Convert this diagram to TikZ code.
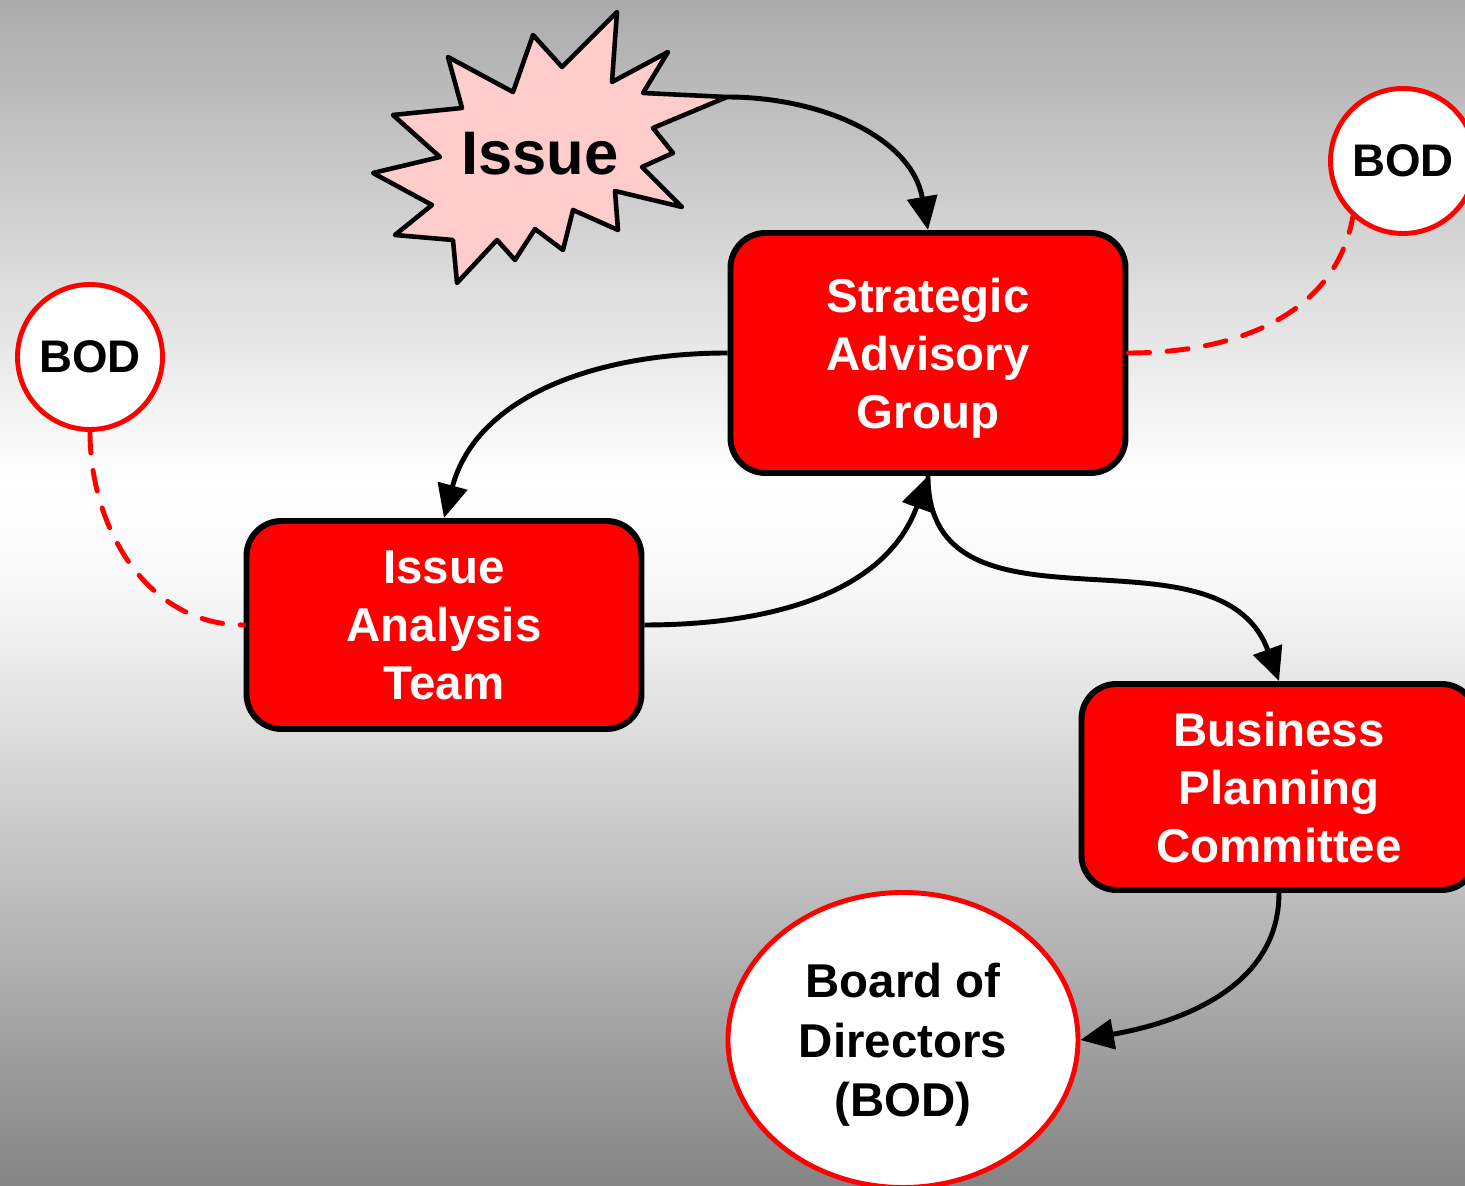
\documentclass[tikz,border=0pt]{standalone}
\usepackage{fontspec}
\setmainfont{Liberation Sans}
\usetikzlibrary{arrows.meta,shapes.geometric}

\definecolor{bgtop}{gray}{0.67}
\definecolor{bgmid}{gray}{0.97}
\definecolor{bgbottom}{gray}{0.52}
\definecolor{burst}{RGB}{255,204,204}

% light band a bit above the middle
\pgfdeclareverticalshading{backdrop}{100bp}{color(0bp)=(bgbottom); color(25bp)=(bgbottom);
  color(50bp)=(bgmid); color(54.8bp)=(white); color(75bp)=(bgtop); color(100bp)=(bgtop)}

\tikzset{
  unit/.style={draw=black, line width=1.7pt, fill=red, rounded corners=0.35cm,
    minimum width=3.95cm, text=white, align=center, text depth=0pt,
    font=\bfseries\fontsize{13.5}{16.5}\selectfont},
  board/.style={draw=red, line width=1.4pt, fill=white, align=center, inner sep=0pt,
    font=\bfseries\fontsize{13.5}{17}\selectfont},
  flow/.style={line width=1.4pt, -{Triangle[length=9.5pt,width=8.5pt]}},
  link/.style={red, line width=1.4pt, dash pattern=on 6pt off 5pt, line cap=round}
}

\begin{document}
\begin{tikzpicture}

\shade[shading=backdrop] (0,0) rectangle (14.65,11.86);
\useasboundingbox (0,0) rectangle (14.65,11.86);

% burst around the issue
\filldraw[fill=burst, line width=1.3pt, line join=round]
  (6.17,11.74) -- (6.12,11.04) -- (6.68,11.34) -- (6.43,10.93) -- (7.27,10.89)
  -- (6.53,10.58) -- (6.73,10.33) -- (6.42,10.19) -- (6.82,9.79) -- (6.15,9.95)
  -- (6.18,9.56) -- (5.73,9.76) -- (5.63,9.36) -- (5.35,9.57) -- (5.15,9.26)
  -- (4.97,9.46) -- (4.57,9.03) -- (4.53,9.46) -- (3.95,9.51) -- (4.32,9.81)
  -- (3.73,10.13) -- (4.40,10.29) -- (3.93,10.71) -- (4.62,10.78) -- (4.48,11.29)
  -- (5.13,10.94) -- (5.33,11.51) -- (5.62,11.19) -- cycle;
\coordinate (tip) at (7.27,10.89);
\node[font=\bfseries\fontsize{17.5}{20}\selectfont] (issue) at (5.40,10.32) {Issue};

\node[unit, minimum height=2.40cm] (sag) at (9.28,8.33) {Strategic\\Advisory\\Group};
\node[unit, minimum height=2.08cm] (iat) at (4.44,5.61) {Issue\\Analysis\\Team};
\node[unit, minimum height=2.06cm] (bpc) at (12.79,3.99) {Business\\Planning\\Committee};

\node[board, ellipse, text depth=0pt, minimum width=3.50cm, minimum height=2.95cm] (bod) at (9.03,1.46) {Board of\\Directors\\(BOD)};
\node[board, circle, minimum size=1.45cm, font=\bfseries\fontsize{13}{15}\selectfont] (bodl) at (0.90,8.29) {BOD};
\node[board, circle, minimum size=1.45cm, font=\bfseries\fontsize{13}{15}\selectfont] (bodr) at (14.03,10.25) {BOD};

% who passes what to whom
\draw[flow] (tip) to[out=0, in=100] (sag.north);
\draw[flow] (sag.west) to[out=180, in=75] (iat.north);
\draw[flow] (iat.east) to[out=0, in=-110] (sag.south);
\draw[flow] (sag.south) to[out=-90, in=110, looseness=1.1] (bpc.north);
\draw[flow] (bpc.south) to[out=-90, in=10] (bod.east);

% board members sitting in
\draw[link] (sag.east) to[out=0, in=-100] (bodr.228);
\draw[link] (bodl.south) to[out=-90, in=180] (iat.west);

\end{tikzpicture}
\end{document}
